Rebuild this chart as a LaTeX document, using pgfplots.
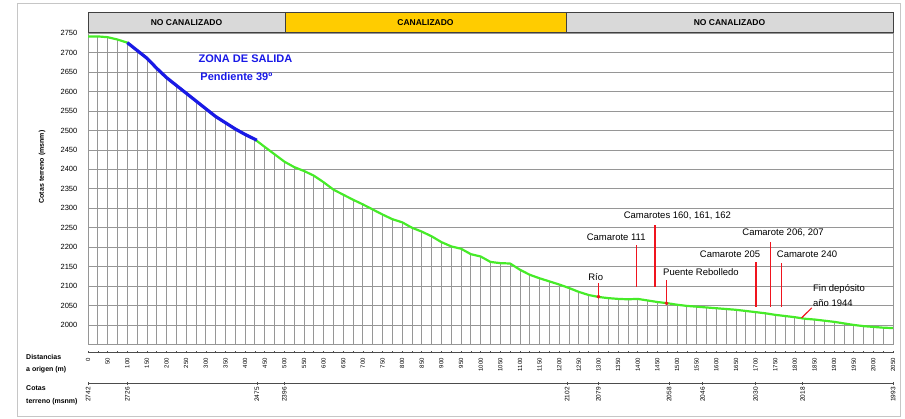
\documentclass[border=0pt]{standalone}
\usepackage{fontspec}
\setmainfont{Liberation Sans}
\usepackage{pgfplots}
\pgfplotsset{compat=1.18}
\usepackage{pgfplotstable}
\definecolor{prof}{RGB}{70,235,40}
\definecolor{zona}{RGB}{25,25,230}
\definecolor{hdrgray}{RGB}{217,217,217}
\definecolor{hdryel}{RGB}{255,204,0}
\definecolor{gridc}{RGB}{150,150,150}
\definecolor{annot}{RGB}{240,20,30}

\pgfplotstableread{
d z
0 2742
25 2742
50 2740
75 2734
100 2726
125 2706
150 2686
175 2660
200 2636
225 2616
250 2596
275 2576
300 2556
325 2536
350 2520
375 2504
400 2490
425 2477
450 2458
475 2439
500 2420
525 2406
550 2396
575 2384
600 2367
625 2348
650 2335
675 2322
700 2310
725 2297
750 2284
775 2272
800 2264
825 2250
850 2240
875 2228
900 2213
925 2202
950 2196
975 2182
1000 2176
1025 2162
1050 2159
1075 2158
1100 2142
1125 2129
1150 2120
1175 2112
1200 2104
1225 2095
1250 2085
1275 2077
1300 2072
1325 2069
1350 2067
1375 2066
1400 2067
1425 2063
1450 2059
1475 2056
1500 2052
1525 2049
1550 2047
1575 2045
1600 2043
1625 2041
1650 2039
1675 2036
1700 2033
1725 2030
1750 2026
1775 2023
1800 2020
1825 2016
1850 2014
1875 2011
1900 2008
1925 2004
1950 2000
1975 1997
2000 1995
2025 1993
2050 1992
}\profile

\begin{document}
\begin{tikzpicture}[x=1pt,y=1pt]
\useasboundingbox (0,0) rectangle (905,418);
\draw[gray!45, line width=1pt] (17,2) rectangle (900,414);

\begin{axis}[
  at={(88pt,73.6pt)}, anchor=south west,
  scale only axis, width=805pt, height=311.1pt,
  xmin=0, xmax=2050, ymin=1950, ymax=2750,
  axis line style={gridc, line width=0.8pt},
  xtick={0,50,...,2050},
  ytick={2000,2050,...,2750},
  ymajorgrids, grid style={gridc, line width=0.8pt},
  major tick length=0pt,
  /pgf/number format/1000 sep={},
  /pgf/number format/assume math mode=true,
  xticklabel style={rotate=90, anchor=east, inner sep=0pt, font=\fontsize{6}{6}\selectfont},
  xticklabel shift=13.6pt,
  yticklabel style={anchor=east, inner sep=0pt, font=\fontsize{7.5}{7.5}\selectfont},
  yticklabel shift=10.5pt,
]
\addplot[ycomb, draw=gridc, line width=0.8pt, mark=none] table[x=d,y=z] {\profile};
\addplot[prof, line width=2.2pt, line join=round] table[x=d,y=z] {\profile};
\addplot[zona, line width=3.2pt, line join=round] coordinates {
 (100,2726) (125,2706) (150,2686) (175,2660) (200,2636) (225,2616) (250,2596)
 (275,2576) (300,2556) (325,2536) (350,2520) (375,2504) (400,2490) (430,2475)};
% annotation lines
\addplot[annot, line width=1.1pt] coordinates {(1300,2073) (1300,2107)};
\addplot[annot, line width=1.1pt] coordinates {(1396,2098) (1396,2206)};
\addplot[annot, line width=1.1pt] coordinates {(1444,2098) (1444,2257)};
\addplot[annot, line width=1.1pt] coordinates {(1473,2056) (1473,2116)};
\addplot[annot, line width=1.1pt] coordinates {(1701,2047) (1701,2163)};
\addplot[annot, line width=1.1pt] coordinates {(1737,2047) (1737,2214)};
\addplot[annot, line width=1.1pt] coordinates {(1765,2047) (1765,2160)};
\addplot[annot, line width=1.1pt] coordinates {(1817,2018) (1843,2044)};
\addplot[only marks, annot, mark=*, mark size=1.7pt] coordinates {(1300,2073) (1473,2056)};

\node[font=\fontsize{9.5}{9.5}\selectfont] at (axis cs:1293,2123) {Río};
\node[font=\fontsize{9.5}{9.5}\selectfont] at (axis cs:1345,2226) {Camarote 111};
\node[font=\fontsize{9.5}{9.5}\selectfont] at (axis cs:1501,2280) {Camarotes 160, 161, 162};
\node[font=\fontsize{9.5}{9.5}\selectfont] at (axis cs:1561,2137) {Puente Rebolledo};
\node[font=\fontsize{9.5}{9.5}\selectfont] at (axis cs:1635,2183) {Camarote 205};
\node[font=\fontsize{9.5}{9.5}\selectfont] at (axis cs:1770,2237) {Camarote 206, 207};
\node[font=\fontsize{9.5}{9.5}\selectfont] at (axis cs:1831,2183) {Camarote 240};
\node[font=\fontsize{9.5}{9.5}\selectfont, anchor=west, inner sep=0pt] at (axis cs:1846,2093) {Fin depósito};
\node[font=\fontsize{9.5}{9.5}\selectfont, anchor=west, inner sep=0pt] at (axis cs:1846,2057) {año 1944};
\node[font=\bfseries\fontsize{11}{11}\selectfont, text=zona] at (axis cs:401,2684) {ZONA DE SALIDA};
\node[font=\bfseries\fontsize{11}{11}\selectfont, text=zona] at (axis cs:378,2638) {Pendiente 39º};
\end{axis}

% header boxes
\draw[black!75, line width=1pt, fill=hdrgray] (88,385) rectangle (285,405);
\draw[black!75, line width=1pt, fill=hdryel] (285,385) rectangle (566,405);
\draw[black!75, line width=1pt, fill=hdrgray] (566,385) rectangle (893,405);
\node[font=\bfseries\fontsize{8.5}{8.5}\selectfont] at (186.5,395) {NO CANALIZADO};
\node[font=\bfseries\fontsize{8.5}{8.5}\selectfont] at (425.5,395) {CANALIZADO};
\node[font=\bfseries\fontsize{8.5}{8.5}\selectfont] at (729.5,395) {NO CANALIZADO};

% y label
\node[rotate=90, font=\bfseries\fontsize{7}{7}\selectfont] at (42,251) {Cotas terreno (msnm)};

% bottom rows
\node[anchor=west, font=\bfseries\fontsize{7}{7}\selectfont, inner sep=0pt] at (26,61) {Distancias};
\node[anchor=west, font=\bfseries\fontsize{7}{7}\selectfont, inner sep=0pt] at (26,48) {a origen (m)};
\node[anchor=west, font=\bfseries\fontsize{7}{7}\selectfont, inner sep=0pt] at (26,30) {Cotas};
\node[anchor=west, font=\bfseries\fontsize{7}{7}\selectfont, inner sep=0pt] at (26,16.5) {terreno (msnm)};
\draw[black!70, line width=0.8pt] (88,66) -- (893,66);
\draw[black!70, line width=0.8pt] (88,35) -- (893,35);
\begin{scope}[shift={(88pt,0pt)}, x=0.392683pt, y=1pt]
  \foreach \d in {0,25,...,2050} \draw[black!70, line width=0.6pt] (\d,64.8) -- (\d,67.2);
  \foreach \d/\v in {0/2742,100/2726,430/2475,500/2396,1220/2102,1300/2079,1480/2058,1565/2046,1700/2030,1820/2018,2050/1993} {
    \draw[black!70, line width=0.6pt] (\d,33.5) -- (\d,36.5);
    \node[rotate=90, anchor=east, inner sep=0pt, font=\fontsize{6.5}{6.5}\selectfont] at (\d,31) {\v};
  }
\end{scope}
\end{tikzpicture}
\end{document}
